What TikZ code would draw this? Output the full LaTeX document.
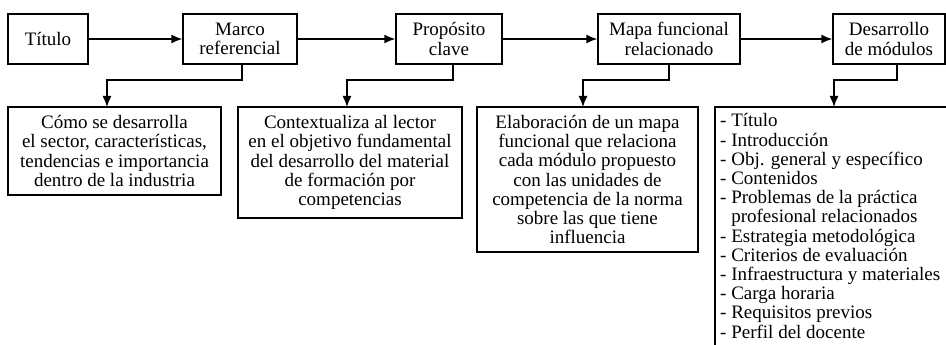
\documentclass[tikz,border=0pt]{standalone}
\usepackage{fontspec}
\setmainfont{Liberation Serif}
\usetikzlibrary{arrows.meta}
\begin{document}
\begin{tikzpicture}[x=1pt,y=-1pt,
  txt/.style={font=\fontsize{19}{19.2}\selectfont},
  box/.style={draw,line width=1.4pt,rectangle,inner sep=2pt,align=center,txt},
  conn/.style={line width=1.4pt,-{Latex[length=11pt,width=9pt]}},
  plain/.style={line width=1.4pt}]
\useasboundingbox (0,0) rectangle (946,345);
% top row
\node[box,minimum width=80,minimum height=50] (tit) at (48,39) {Título};
\node[box,minimum width=114,minimum height=50] (mar) at (240,39) {Marco\\referencial};
\node[box,minimum width=106,minimum height=50] (pro) at (449,39) {Propósito\\clave};
\node[box,minimum width=142,minimum height=50] (map) at (669,39) {Mapa funcional\\relacionado};
\node[box,minimum width=112,minimum height=50] (des) at (889,39) {Desarrollo\\de módulos};
\draw[conn] (tit) -- (mar);
\draw[conn] (mar) -- (pro);
\draw[conn] (pro) -- (map);
\draw[conn] (map) -- (des);
% bottom row
\node[box,minimum width=213,minimum height=88] (b1) at (114.5,151)
  {Cómo se desarrolla\\el sector, características,\\tendencias e importancia\\dentro de la industria};
\node[box,minimum width=224,minimum height=111] (b2) at (350,162.5)
  {Contextualiza al lector\\en el objetivo fundamental\\del desarrollo del material\\de formación por\\competencias};
\node[box,minimum width=221,minimum height=145] (b3) at (587.5,179.5)
  {Elaboración de un mapa\\funcional que relaciona\\cada módulo propuesto\\con las unidades de\\competencia de la norma\\sobre las que tiene\\influencia};
\node[align=left,anchor=north west,inner sep=0pt,txt] (b5) at (720,113.5)
  {- Título\\- Introducción\\- Obj. general y específico\\- Contenidos\\- Problemas de la práctica\\\phantom{- }profesional relacionados\\- Estrategia metodológica\\- Criterios de evaluación\\- Infraestructura y materiales\\- Carga horaria\\- Requisitos previos\\- Perfil del docente};
\coordinate (b5tl) at (715,107);
\coordinate (b5bl) at (715,346);
\coordinate (b5tr) at (947,107);
\draw[plain] (b5bl) -- (b5tl) -- (b5tr);
% down connectors
\draw[conn] ([xshift=2]mar.south) |- (107,80) -- (107,107);
\draw[conn] ([xshift=4]pro.south) |- (347,80) -- (347,107);
\draw[conn] (map.south) |- (583,80) -- (583,107);
\draw[conn] ([xshift=8]des.south) |- (834,80) -- (b5tl -| 834,0);
\end{tikzpicture}
\end{document}
